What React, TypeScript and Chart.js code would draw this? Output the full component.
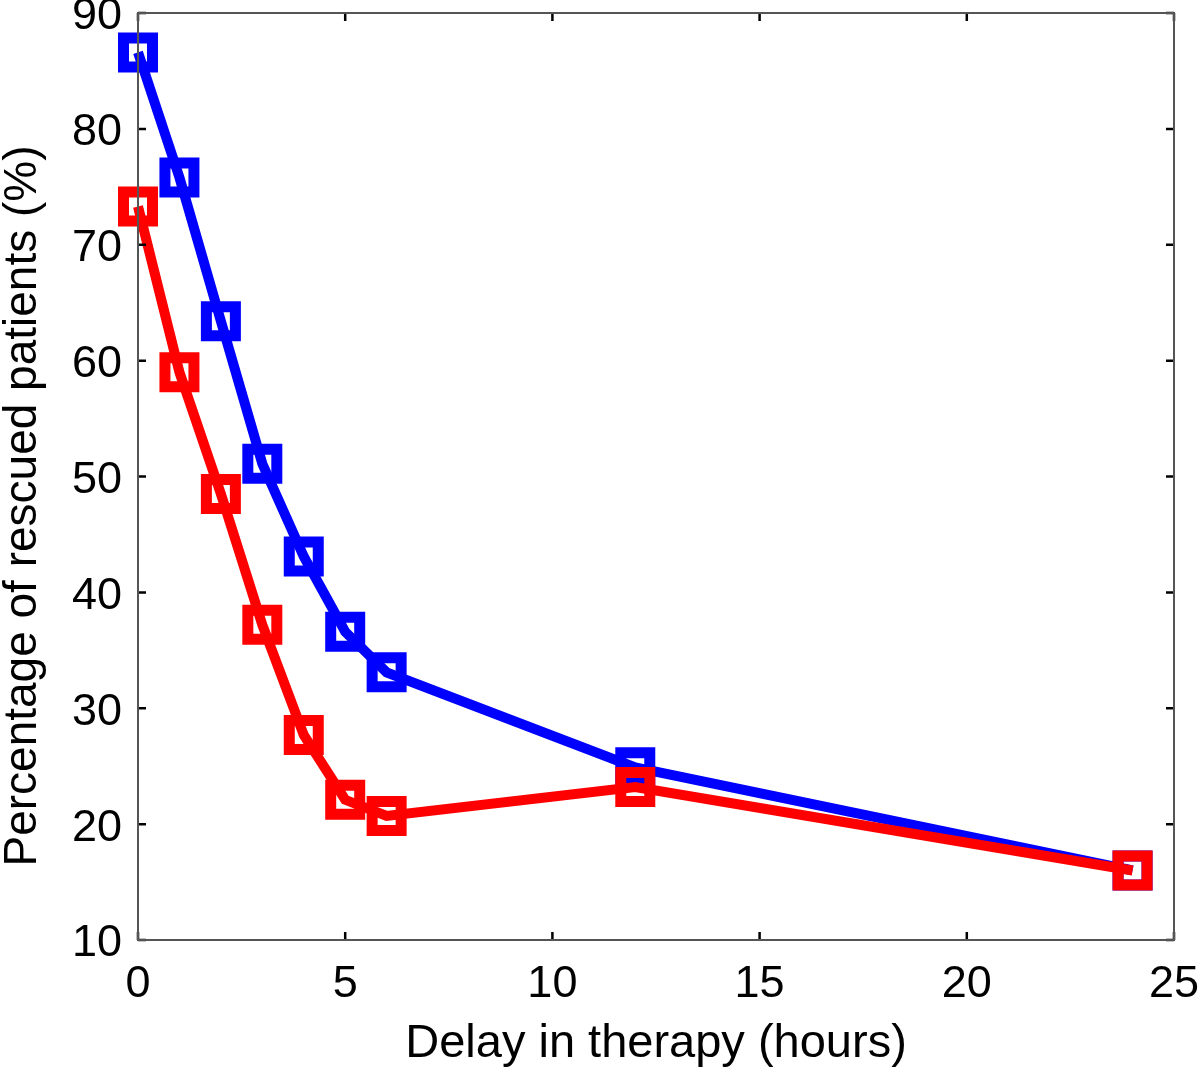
import React, { useEffect, useRef } from "react";
import { Chart, registerables } from "chart.js";

Chart.register(...registerables);

const delayHours = [0, 1, 2, 3, 4, 5, 6, 12, 24];
const blueValues = [86.6, 75.8, 63.4, 51.1, 43.1, 36.6, 33.1, 24.9, 16.0];
const redValues = [73.3, 59.0, 48.5, 37.2, 27.7, 22.1, 20.7, 23.2, 16.0];
const xTicks = [0, 5, 10, 15, 20, 25];
const yTicks = [10, 20, 30, 40, 50, 60, 70, 80, 90];
const xTitle = "Delay in therapy (hours)";
const yTitle = "Percentage of rescued patients (%)";

const FONT = "'Liberation Sans', Arial, Helvetica, sans-serif";

const framePlugin = {
  id: "frameTicks",
  afterDraw(chart: any) {
    const { ctx, chartArea } = chart;
    const { left, right, top, bottom } = chartArea;
    const xs = chart.scales.x;
    const ys = chart.scales.y;
    ctx.save();
    ctx.strokeStyle = "#000";
    ctx.lineWidth = 2.5;
    const L = 8;
    for (const v of xTicks) {
      const px = xs.getPixelForValue(v);
      ctx.beginPath();
      ctx.moveTo(px, bottom);
      ctx.lineTo(px, bottom - L);
      ctx.moveTo(px, top);
      ctx.lineTo(px, top + L);
      ctx.stroke();
    }
    for (const v of yTicks) {
      const py = ys.getPixelForValue(v);
      ctx.beginPath();
      ctx.moveTo(left, py);
      ctx.lineTo(left + L, py);
      ctx.moveTo(right, py);
      ctx.lineTo(right - L, py);
      ctx.stroke();
    }
    ctx.strokeStyle = "#555";
    ctx.lineWidth = 2;
    ctx.strokeRect(left, top, right - left, bottom - top);
    // y title
    ctx.fillStyle = "#000";
    ctx.font = `46px ${FONT}`;
    ctx.textAlign = "center";
    ctx.textBaseline = "alphabetic";
    ctx.translate(36, 506);
    ctx.rotate(-Math.PI / 2);
    ctx.fillText(yTitle, 0, 0);
    ctx.restore();
  },
};

export default function App() {
  const ref = useRef<HTMLCanvasElement | null>(null);
  useEffect(() => {
    if (!ref.current) return;
    const common = {
      borderWidth: 10,
      pointStyle: "rect",
      pointRadius: 20.5,
      pointHoverRadius: 20.5,
      pointBorderWidth: 11,
      pointHoverBorderWidth: 11,
      pointBackgroundColor: "rgba(0,0,0,0)",
      tension: 0,
      clip: false as any,
    };
    const chart = new Chart(ref.current, {
      type: "line",
      data: {
        datasets: [
          {
            label: "red",
            data: delayHours.map((x, i) => ({ x, y: redValues[i] })),
            borderColor: "#ff0000",
            pointBorderColor: "#ff0000",
            ...common,
          } as any,
          {
            label: "blue",
            data: delayHours.map((x, i) => ({ x, y: blueValues[i] })),
            borderColor: "#0000ff",
            pointBorderColor: "#0000ff",
            ...common,
          } as any,
        ],
      },
      options: {
        responsive: false,
        animation: false,
        layout: { autoPadding: false, padding: { top: 13, right: 26, left: 0, bottom: 0 } },
        plugins: { legend: { display: false }, tooltip: { enabled: false } },
        scales: {
          x: {
            type: "linear",
            min: 0,
            max: 25,
            afterBuildTicks: (s: any) => {
              s.ticks = xTicks.map((v) => ({ value: v }));
            },
            afterFit: (s: any) => {
              s.height = 132;
              s.paddingLeft = 0;
              s.paddingRight = 0;
            },
            grid: { display: false, drawTicks: false },
            border: { display: false },
            ticks: {
              color: "#000",
              font: { family: FONT, size: 45 },
              padding: 18,
              maxRotation: 0,
              autoSkip: false,
            },
            title: {
              display: true,
              text: xTitle,
              color: "#000",
              font: { family: FONT, size: 47 },
              padding: { top: 0, bottom: 0 },
            },
          },
          y: {
            type: "linear",
            min: 10,
            max: 90,
            afterBuildTicks: (s: any) => {
              s.ticks = yTicks.map((v) => ({ value: v }));
            },
            afterFit: (s: any) => {
              s.width = 138;
              s.paddingTop = 0;
              s.paddingBottom = 0;
            },
            grid: { display: false, drawTicks: false },
            border: { display: false },
            ticks: {
              color: "#000",
              font: { family: FONT, size: 45 },
              padding: 16,
              labelOffset: 4,
              autoSkip: false,
            },
          },
        },
      },
      plugins: [framePlugin],
    } as any);
    return () => chart.destroy();
  }, []);
  return (
    <div style={{ position: "absolute", left: 0, top: 0, width: 1200, height: 1072, background: "#fff" }}>
      <canvas ref={ref} width={1200} height={1072} style={{ display: "block" }} />
    </div>
  );
}
